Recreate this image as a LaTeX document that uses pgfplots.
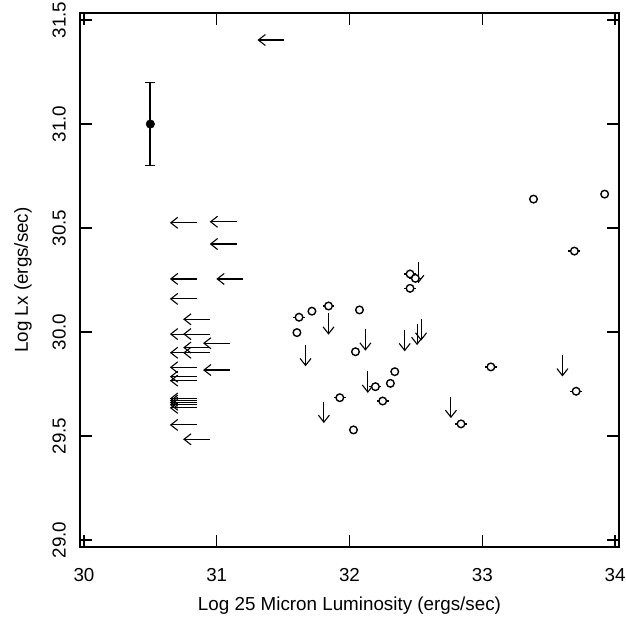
\documentclass[border=0pt]{standalone}
\usepackage{fontspec}
\setmainfont{Liberation Sans}
\usepackage{pgfplots}
\pgfplotsset{compat=1.18}
\usetikzlibrary{arrows.meta,calc}
\newcommand{\fs}{\fontsize{18.8}{22}\selectfont}
\begin{document}
\begin{tikzpicture}
\begin{axis}[name=ax, at={(0,0)}, anchor=south west,
  width=539pt, height=534pt, scale only axis,
  xmin=29.97, xmax=34.03, ymin=28.966, ymax=31.534,
  xtick={30,31,32,33,34}, ytick={29,29.5,30,30.5,31,31.5},
  tick align=inside, major tick length=12pt,
  axis line style={line width=1.6pt},
  every tick/.style={black, line width=1.3pt},
  /pgf/number format/assume math mode=true,
  tick label style={font=\fs},
  label style={font=\fs},
  yticklabel={\pgfmathprintnumber[fixed,fixed zerofill,precision=1]{\tick}},
  yticklabel style={rotate=90, anchor=south},
  yticklabel shift=10.7pt,
  xticklabel shift=18pt,
  xlabel={Log 25 Micron Luminosity (ergs/sec)},
  ylabel={Log Lx (ergs/sec)},
  xlabel style={at={(axis description cs:0.5,-0.1105)}, anchor=center},
  ylabel style={at={(axis description cs:-0.1058,0.5)}, anchor=center},
]
% reference error bar point
\addplot[only marks, mark=*, mark size=4.3pt, black,
  error bars/.cd, y dir=both, y explicit, error mark=|,
  error mark options={black, mark size=5pt, line width=1.4pt},
  error bar style={black, line width=1.8pt}]
  coordinates {(30.5,31.0) +- (0,0.2)};

% upper limits in x (left arrows)
\addplot[black, line width=1.1pt, quiver={u=-0.203,v=0},
  -{Straight Barb[length=7pt,width=11pt]}] table {
x y
31.51 31.404
30.85 30.525
31.15 30.530
31.15 30.423
30.85 30.255
31.20 30.255
30.85 30.159
30.95 30.061
30.85 29.990
30.95 29.990
31.10 29.946
30.95 29.925
30.85 29.900
30.95 29.900
30.85 29.830
31.10 29.817
30.85 29.785
30.85 29.766
30.85 29.680
30.85 29.670
30.85 29.660
30.85 29.650
30.85 29.635
30.85 29.553
30.95 29.484
};

% upper limits in y (down arrows)
\addplot[black, line width=1.1pt, quiver={u=0,v=-0.103},
  -{Straight Barb[length=7pt,width=11pt]}] table {
x y
31.669 29.938
31.842 30.090
32.120 30.013
32.416 30.010
32.509 30.040
32.539 30.061
32.138 29.810
31.807 29.665
32.519 30.338
32.764 29.689
33.604 29.889
};

% detections
\addplot[only marks, mark=*, mark size=3.8pt,
  mark options={fill=white, draw=black, line width=1.4pt},
  error bars/.cd, x dir=both, x explicit, error mark=none,
  error bar style={black, line width=1.3pt}]
  table[x error=ex] {
x y ex
31.620 30.071 0.045
31.717 30.100 0
31.842 30.125 0.045
32.075 30.106 0
31.604 29.997 0
32.045 29.905 0
32.341 29.809 0
32.308 29.753 0
32.195 29.737 0.045
32.250 29.668 0.045
31.927 29.684 0.045
32.030 29.529 0
32.456 30.279 0.045
32.496 30.258 0.045
32.456 30.210 0.045
33.386 30.639 0
33.922 30.663 0
33.694 30.389 0.045
33.065 29.832 0.045
33.707 29.715 0.045
32.840 29.558 0.045
};
\end{axis}
\pgfresetboundingbox
\path[use as bounding box] ($(ax.south west)+(-80pt,-71pt)$) rectangle ($(ax.north east)+(7pt,13pt)$);
\end{tikzpicture}
\end{document}
